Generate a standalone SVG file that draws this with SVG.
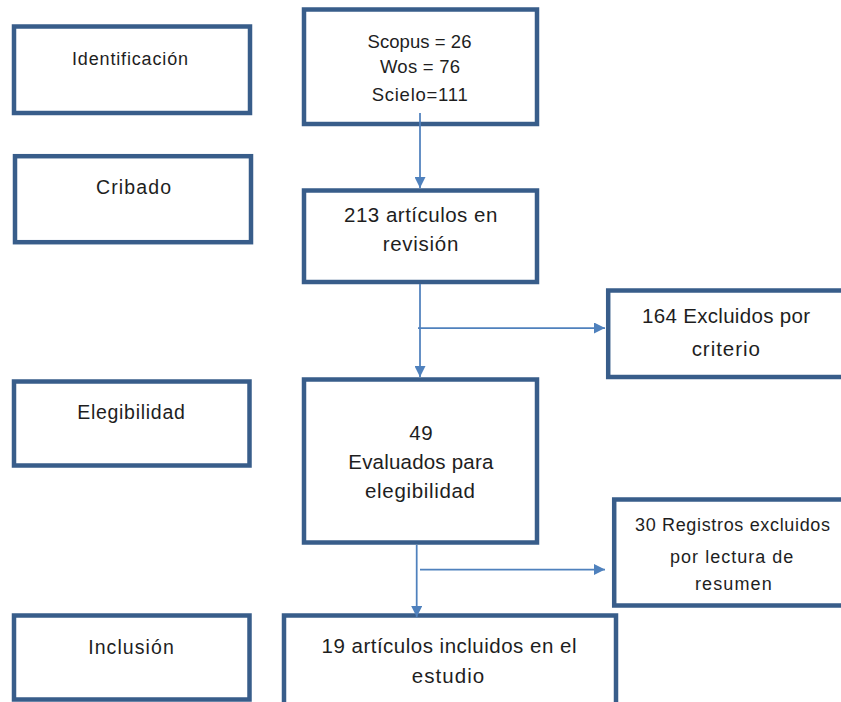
<svg xmlns="http://www.w3.org/2000/svg" width="841" height="702" viewBox="0 0 841 702">
<defs>
<style>
.box{fill:#ffffff;stroke:#385D8A;stroke-width:4.5}
.t{font-family:"Liberation Sans",Arial,sans-serif;fill:#1e1e1e;text-anchor:middle}
.c{fill:none;stroke:#4F81BD;stroke-width:1.75}
</style>
<marker id="ah" viewBox="0 0 10 10" refX="10" refY="5" markerWidth="11" markerHeight="11" markerUnits="userSpaceOnUse" orient="auto">
<path d="M0,0 L10,5 L0,10 z" fill="#4F81BD"/>
</marker>
</defs>
<rect width="841" height="702" fill="#ffffff"/>

<g id="identificacion">
<rect class="box" x="14" y="26.5" width="236" height="86.5"/>
<text class="t" x="130" y="65" font-size="18" textLength="116">Identificación</text>
</g>

<g id="cribado">
<rect class="box" x="15" y="156.2" width="236" height="86"/>
<text class="t" x="133.5" y="194.3" font-size="19.5" textLength="75">Cribado</text>
</g>

<g id="elegibilidad">
<rect class="box" x="14" y="381.5" width="235.5" height="84"/>
<text class="t" x="131" y="419.3" font-size="19.5" textLength="107.7">Elegibilidad</text>
</g>

<g id="inclusion">
<rect class="box" x="14" y="615.5" width="235.5" height="84"/>
<text class="t" x="131" y="654" font-size="19.5" textLength="85.7">Inclusión</text>
</g>

<g id="fuentes">
<rect class="box" x="304" y="9.5" width="233" height="114.5"/>
<text class="t" x="419.5" y="47.7" font-size="18.5" textLength="104">Scopus = 26</text>
<text class="t" x="420" y="73" font-size="18.5" textLength="80">Wos = 76</text>
<text class="t" x="419.7" y="101" font-size="18.5" textLength="96">Scielo=111</text>
</g>

<g id="revision">
<rect class="box" x="304" y="190.5" width="233" height="91.5"/>
<text class="t" x="420.7" y="222.3" font-size="20.5" textLength="153.3">213 artículos en</text>
<text class="t" x="420.5" y="251" font-size="20.5" textLength="75.7">revisión</text>
</g>

<g id="excluidos-criterio">
<rect class="box" x="608.2" y="290.5" width="250" height="86.5"/>
<text class="t" x="726" y="322.7" font-size="20.5" textLength="168">164  Excluidos por</text>
<text class="t" x="725.8" y="356" font-size="20.5" textLength="68.3">criterio</text>
</g>

<g id="evaluados">
<rect class="box" x="304" y="379.5" width="233" height="163"/>
<text class="t" x="421" y="440" font-size="20.5" textLength="23.3">49</text>
<text class="t" x="420.8" y="469" font-size="20.5" textLength="145">Evaluados para</text>
<text class="t" x="420" y="498.3" font-size="20.5" textLength="110">elegibilidad</text>
</g>

<g id="excluidos-resumen">
<rect class="box" x="614.2" y="499.5" width="250" height="106"/>
<text class="t" x="732.5" y="530.7" font-size="18" textLength="195">30 Registros excluidos</text>
<text class="t" x="731.7" y="562.7" font-size="18" textLength="123.3">por lectura de</text>
<text class="t" x="733.3" y="590" font-size="18" textLength="76.7">resumen</text>
</g>

<g id="incluidos">
<rect class="box" x="284" y="615.5" width="332" height="100"/>
<text class="t" x="449" y="653.3" font-size="20.5" textLength="255">19 artículos incluidos en el</text>
<text class="t" x="448" y="683.3" font-size="20.5" textLength="72.3">estudio</text>
</g>

<g id="connectors">
<line class="c" x1="420" y1="113" x2="420" y2="188" marker-end="url(#ah)"/>
<line class="c" x1="420" y1="284" x2="420" y2="377" marker-end="url(#ah)"/>
<line class="c" x1="418" y1="328" x2="605" y2="328" stroke-width="1.5" marker-end="url(#ah)"/>
<line class="c" x1="416.7" y1="545" x2="416.7" y2="617" marker-end="url(#ah)"/>
<line class="c" x1="420" y1="569.5" x2="605" y2="569.5" stroke-width="1.5" marker-end="url(#ah)"/>
</g>
</svg>
